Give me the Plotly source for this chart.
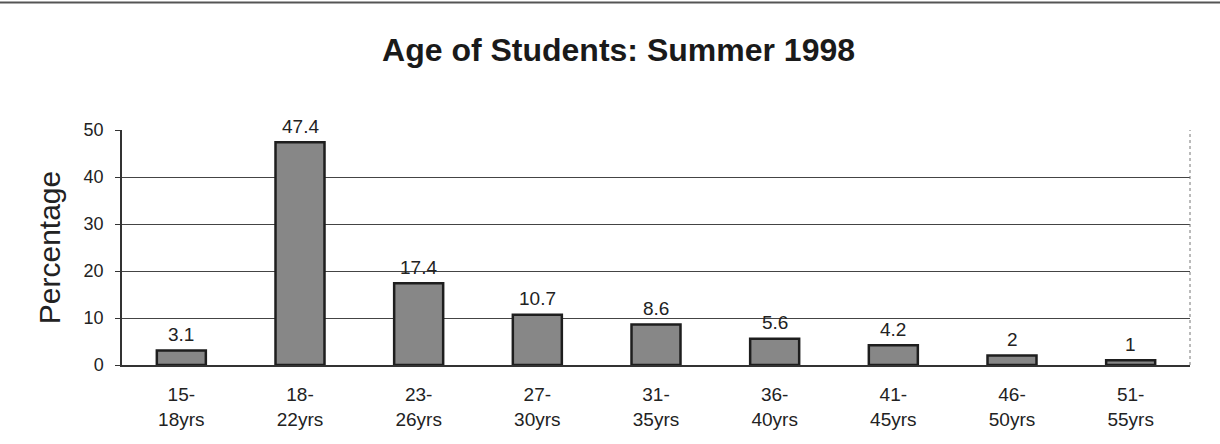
import plotly.graph_objects as go

categories = ["15-<br>18yrs", "18-<br>22yrs", "23-<br>26yrs", "27-<br>30yrs", "31-<br>35yrs",
              "36-<br>40yrs", "41-<br>45yrs", "46-<br>50yrs", "51-<br>55yrs"]
values = [3.1, 47.4, 17.4, 10.7, 8.6, 5.6, 4.2, 2, 1]
value_labels = ["3.1", "47.4", "17.4", "10.7", "8.6", "5.6", "4.2", "2", "1"]
y_ticks = [0, 10, 20, 30, 40, 50]

FONT = "Arial, Liberation Sans, sans-serif"

fig = go.Figure()
fig.add_trace(go.Bar(
    x=categories, y=values,
    marker=dict(color="#878787", line=dict(color="#1e1e1e", width=2.5)),
    width=0.413,
))
for c, v, t in zip(categories, values, value_labels):
    fig.add_annotation(x=c, y=v, text=t, showarrow=False, yanchor="middle", yshift=16,
                       font=dict(family=FONT, size=19, color="#222"))

fig.update_layout(
    width=1220, height=444,
    margin=dict(l=122, r=30, t=130, b=79),
    paper_bgcolor="white", plot_bgcolor="white",
    showlegend=False,
    title=dict(text="<b>Age of Students: Summer 1998</b>", x=0.507, xanchor="center",
               y=1 - 50 / 444, yanchor="middle",
               font=dict(family=FONT, size=32, color="#1a1a1a")),
    font=dict(family=FONT, color="#222"),
)
fig.update_yaxes(
    range=[0, 50], tickvals=y_ticks, showgrid=True, gridcolor="#444", gridwidth=1,
    showline=True, linecolor="#333", linewidth=1.5, mirror=False,
    tickfont=dict(size=18, color="#222"), ticks="outside", ticklen=5, tickcolor="#333",
    ticklabelstandoff=8,
    title=dict(text="Percentage", font=dict(size=30, color="#222"), standoff=14),
    zeroline=False,
)
fig.update_xaxes(
    showline=True, linecolor="#333", linewidth=2, ticks="",
    tickfont=dict(size=19, color="#222"), ticklabelstandoff=11,
)
# right plot border (dotted)
fig.add_shape(type="line", xref="paper", yref="paper", x0=1, x1=1, y0=0, y1=1,
              line=dict(color="#777", width=1, dash="dot"))
# top border of the page scan
fig.add_shape(type="line", xref="paper", yref="paper", x0=-122 / 1068, x1=1098 / 1068,
              y0=(365 - 2.5) / 235, y1=(365 - 2.5) / 235,
              line=dict(color="#555", width=2))

fig.write_html("out.html", config={"displayModeBar": False},
               post_script="document.body.style.margin='0px';document.body.style.overflow='hidden';")
